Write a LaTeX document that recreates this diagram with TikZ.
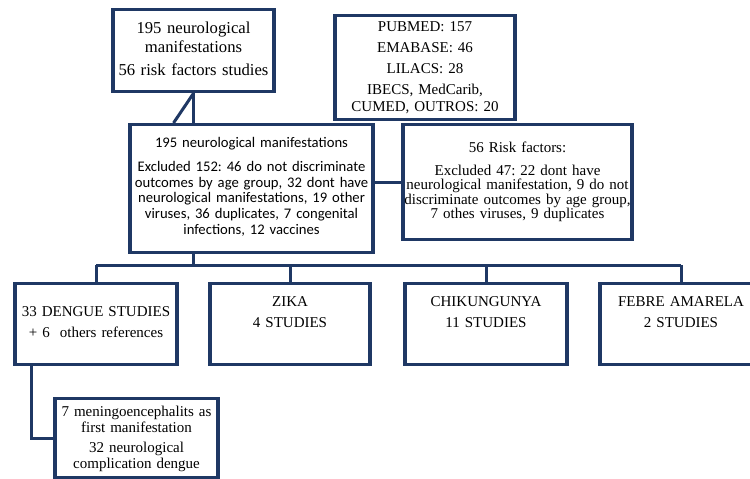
\documentclass[tikz,border=0pt]{standalone}
\usepackage{fontspec}
\setmainfont{Liberation Serif}
\newfontfamily\calfont{Carlito}
\usetikzlibrary{positioning}
\frenchspacing
\definecolor{navy}{RGB}{31,56,100}
\tikzset{flowbox/.style n args={3}{
    draw=navy, line width=2pt, fill=white, anchor=north,
    inner xsep=0pt, inner ysep=0pt, align=center,
    text width=#1, text height=#2, text depth=#3,
    font=\fontsize{9}{10.8}\selectfont
  },
  link/.style={draw=navy, line width=1.8pt}
}

\begin{document}
\begin{tikzpicture}[x=0.6pt,y=-0.6pt]
      \useasboundingbox (0,0) rectangle (750,478);
      \node[flowbox={96.6pt}{14.4pt}{34.8pt}, font=\fontsize{10}{11.4}\selectfont] (total) at (193.5,8)
        {195 neurological\\ manifestations\\[2.4pt] 56 risk factors studies};
      \node[flowbox={108pt}{9.6pt}{52.8pt}, font=\fontsize{9}{10.2}\selectfont] (bases) at (425,14)
        {PUBMED: 157\\[2.5pt] EMABASE: 46\\[2.5pt] LILACS: 28\\[2pt] IBECS, MedCarib,\\ CUMED, OUTROS: 20};
      \node[flowbox={145.8pt}{13.8pt}{63pt}, font=\calfont\fontsize{8.8}{9.4}\selectfont] (neuro) at (251.5,123)
        {195 neurological manifestations\\[4.8pt] Excluded 152: 46 do not discriminate\\ outcomes by age group, 32 dont have\\ neurological manifestations, 19 other\\ viruses, 36 duplicates, 7 congenital\\ infections, 12 vaccines};
      \node[flowbox={137.4pt}{16.8pt}{52.2pt}, font=\fontsize{9}{8.6}\selectfont] (risk) at (517.5,123)
        {56 Risk factors:\\[5pt] Excluded 47: 22 dont have\\ neurological manifestation, 9 do not\\ discriminate outcomes by age group,\\ 7 othes viruses, 9 duplicates};
      \node[flowbox={97.2pt}{19.8pt}{28.8pt}] (dengue) at (96,282)
        {33 DENGUE STUDIES\\[1.8pt] + 6\ \ others references};
      \node[flowbox={96pt}{13.8pt}{34.8pt}] (zika) at (290,282) {ZIKA\\[1.8pt] 4 STUDIES};
      \node[flowbox={97.2pt}{13.8pt}{34.8pt}] (chik) at (486,282) {CHIKUNGUNYA\\[1.8pt] 11 STUDIES};
      \node[flowbox={97.2pt}{13.8pt}{34.8pt}] (febre) at (681,282) {FEBRE AMARELA\\[1.8pt] 2 STUDIES};
      \node[flowbox={97.8pt}{10.8pt}{36.6pt}, font=\fontsize{9}{9.6}\selectfont] (menin) at (136.5,397)
        {7 meningoencephalits as\\ first manifestation\\[2.4pt] 32 neurological\\ complication dengue};
      \coordinate (bus) at (0,265);
      % connectors
      \draw[link] (total.south) -- (total.south |- neuro.north);
      \draw[link] (total.south) -- ([xshift=-12pt]total.south |- neuro.north);
      \draw[link] (neuro.east |- risk.west) -- (risk.west);
      \draw[link] (neuro.south -| total.south) -- (total.south |- bus);
      \draw[link] (dengue.north |- bus) -- (febre.north |- bus);
      \draw[link] (dengue.north) -- (dengue.north |- bus);
      \draw[link] (zika.north) -- (zika.north |- bus);
      \draw[link] (chik.north) -- (chik.north |- bus);
      \draw[link] (febre.north) -- (febre.north |- bus);
      \draw[link] ([xshift=10.8pt]dengue.south west) |- (menin.west);
    \end{tikzpicture}
\end{document}
